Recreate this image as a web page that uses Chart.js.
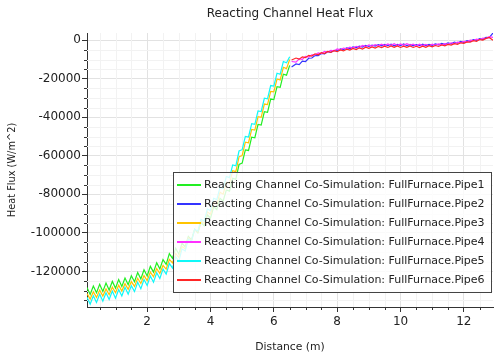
<!DOCTYPE html>
<html>
<head>
<meta charset="utf-8">
<script src="https://cdn.jsdelivr.net/npm/chart.js@4.4.0/dist/chart.umd.min.js"></script>
<style>
  html, body { margin: 0; padding: 0; background: #fff; }
  canvas { display: block; }
</style>
</head>
<body>
<canvas id="heatFluxChart" width="503" height="358"></canvas>
<script>
// series names as shown in the legend
const seriesNames = [
  'Reacting Channel Co-Simulation: FullFurnace.Pipe1',
  'Reacting Channel Co-Simulation: FullFurnace.Pipe2',
  'Reacting Channel Co-Simulation: FullFurnace.Pipe3',
  'Reacting Channel Co-Simulation: FullFurnace.Pipe4',
  'Reacting Channel Co-Simulation: FullFurnace.Pipe5',
  'Reacting Channel Co-Simulation: FullFurnace.Pipe6'
];

// distance (m) for the first half of the channel (Pipe1, Pipe3, Pipe5)
const xLeft = [
  0.1, 0.2, 0.3, 0.4, 0.5, 0.6, 0.7, 0.8, 0.9, 1.0,
  1.1, 1.2, 1.3, 1.4, 1.5, 1.6, 1.7, 1.8, 1.9, 2.0,
  2.1, 2.2, 2.3, 2.4, 2.5, 2.6, 2.7, 2.8, 2.9, 3.0,
  3.1, 3.2, 3.3, 3.4, 3.5, 3.6, 3.7, 3.8, 3.9, 4.0,
  4.1, 4.2, 4.3, 4.4, 4.5, 4.6, 4.7, 4.8, 4.9, 5.0,
  5.1, 5.2, 5.3, 5.4, 5.5, 5.6, 5.7, 5.8, 5.9, 6.0,
  6.1, 6.2, 6.3, 6.4, 6.5
];

// distance (m) for the second half (Pipe2, Pipe4, Pipe6)
const xRight = [
  6.56, 6.7, 6.8, 6.9, 7.0, 7.1, 7.2, 7.3, 7.4, 7.5,
  7.6, 7.7, 7.8, 7.9, 8.0, 8.1, 8.2, 8.3, 8.4, 8.5,
  8.6, 8.7, 8.8, 8.9, 9.0, 9.1, 9.2, 9.3, 9.4, 9.5,
  9.6, 9.7, 9.8, 9.9, 10.0, 10.1, 10.2, 10.3, 10.4, 10.5,
  10.6, 10.7, 10.8, 10.9, 11.0, 11.1, 11.2, 11.3, 11.4, 11.5,
  11.6, 11.7, 11.8, 11.9, 12.0, 12.1, 12.2, 12.3, 12.4, 12.5,
  12.6, 12.7, 12.8, 12.92
];

// heat flux (W/m^2)
const pipe1 = [
  -128400, -132000, -127600, -131100, -126700, -130400, -126100, -129700, -125200, -128700,
  -124200, -127800, -123400, -126900, -122300, -125400, -120600, -123900, -119200, -122400,
  -117400, -120400, -115500, -118700, -113900, -116400, -110800, -113200, -108000, -111100,
  -105400, -107200, -101800, -103600, -98200, -100000, -94600, -96300, -90700, -92300,
  -86500, -87900, -82100, -83400, -77700, -78300, -71700, -72200, -64500, -63800,
  -56900, -57200, -50300, -50600, -43700, -44000, -37100, -37400, -30500, -30800,
  -24100, -24400, -17600, -18100, -13000
];
const pipe3 = [
  -131500, -134400, -130600, -133500, -129700, -132800, -129100, -132100, -128200, -131100,
  -127200, -130200, -126400, -129300, -125300, -127800, -123600, -126300, -122200, -124800,
  -120400, -122800, -118500, -121100, -116900, -118800, -113800, -115600, -110700, -112800,
  -107000, -108400, -102600, -104000, -98200, -99600, -93800, -95100, -89100, -90300,
  -84100, -85100, -78900, -79900, -73700, -74300, -67700, -68200, -60500, -59800,
  -52900, -53200, -46300, -46600, -39700, -40000, -33100, -33400, -26500, -26800,
  -20100, -20600, -14000, -14700, -10000
];
const pipe5 = [
  -133500, -137000, -132700, -136200, -131800, -135500, -131100, -134600, -130200, -133900,
  -129400, -132800, -128300, -131900, -127400, -130500, -125700, -129000, -124200, -127300,
  -122400, -125600, -120700, -123700, -118800, -121400, -115900, -118300, -112400, -114800,
  -108300, -109400, -103200, -104300, -98100, -99200, -93000, -94000, -87600, -88500,
  -82000, -82700, -76200, -77000, -70700, -71300, -64700, -65200, -57500, -56800,
  -49900, -50200, -43300, -43600, -36700, -37000, -30100, -30400, -23500, -23800,
  -17100, -17600, -11000, -11700, -8500
];
const pipe2 = [
  -13800, -12300, -12600, -10800, -11000, -9300, -9200, -7900, -8000, -6800,
  -7000, -5900, -6200, -5200, -5500, -4400, -4800, -3900, -4300, -3400,
  -3900, -3000, -3500, -2700, -3200, -2500, -3000, -2300, -2900, -2100,
  -2800, -2000, -2900, -2100, -2700, -1900, -2800, -2100, -2900, -2200,
  -2800, -2000, -2700, -2100, -2600, -1900, -2400, -1600, -2100, -1300,
  -1800, -900, -1400, -600, -1000, -200, -500, 400, 0, 900,
  500, 1500, 1400, 3800
];
const pipe4 = [
  -11000, -11300, -9600, -9900, -8400, -8700, -7500, -7600, -6500, -6900,
  -5800, -6100, -5200, -5500, -4500, -4900, -4000, -4400, -3500, -4000,
  -3100, -3600, -2700, -3300, -2400, -3000, -2200, -2800, -2000, -2700,
  -1900, -2600, -1800, -2700, -1900, -2600, -1800, -2500, -2000, -2800,
  -2000, -2700, -2100, -2800, -2000, -2600, -1900, -2400, -1700, -2100,
  -1300, -1700, -900, -1300, -500, -800, 100, -200, 600, 300,
  1200, 900, 1900, 1500
];
const pipe6 = [
  -10200, -9200, -9800, -8600, -9000, -7800, -8200, -7000, -7500, -6400,
  -6900, -5800, -6300, -5400, -5900, -5000, -5500, -4600, -5100, -4200,
  -4800, -3900, -4500, -3600, -4200, -3400, -4000, -3200, -3800, -3000,
  -3700, -2900, -3600, -2900, -3700, -3000, -3600, -2900, -3700, -3100,
  -3800, -3000, -3600, -2800, -3400, -2700, -3200, -2400, -2900, -2100,
  -2500, -1700, -2100, -1300, -1600, -800, -1000, -200, -500, 400,
  100, 1000, 1500, 0
];

// axis tick labels
const xTicks = [2, 4, 6, 8, 10, 12];
const yTicks = [-120000, -100000, -80000, -60000, -40000, -20000, 0];

const lineColors = ['#22ee22', '#3434ff', '#ffc400', '#ff30ff', '#10f8f8', '#ff2626'];
const seriesX = [xLeft, xRight, xLeft, xRight, xLeft, xRight];
const seriesY = [pipe1, pipe2, pipe3, pipe4, pipe5, pipe6];

const datasets = seriesNames.map((name, i) => ({
  label: name,
  data: seriesY[i].map((v, k) => ({ x: seriesX[i][k], y: v })),
  borderColor: lineColors[i],
  backgroundColor: lineColors[i],
  borderWidth: 1.2,
  pointRadius: 0,
  tension: 0,
  order: 5 - i   // later pipes drawn on top
}));

const FONT = '"DejaVu Sans"';
Chart.defaults.font.family = FONT;
Chart.defaults.color = '#222';

// faint minor grid plus short minor ticks
const minorTicks = {
  id: 'minorTicks',
  beforeDatasetsDraw(chart) {
    const { ctx, chartArea: a, scales: { x, y } } = chart;
    ctx.save();
    ctx.lineWidth = 1;
    for (let k = 1; k <= 26; k++) {
      const v = k * 0.5;
      if (xTicks.includes(v)) continue;
      const px = Math.round(x.getPixelForValue(v)) + 0.5;
      if (px <= a.left + 1 || px >= a.right) continue;
      ctx.strokeStyle = '#f2f2f2';
      ctx.beginPath(); ctx.moveTo(px, a.top); ctx.lineTo(px, a.bottom); ctx.stroke();
      ctx.strokeStyle = '#333';
      ctx.beginPath(); ctx.moveTo(px, a.bottom); ctx.lineTo(px, a.bottom + 3); ctx.stroke();
    }
    for (let k = -27; k <= 0; k++) {
      const v = k * 5000;
      if (yTicks.includes(v)) continue;
      const py = Math.round(y.getPixelForValue(v)) + 0.5;
      if (py <= a.top || py >= a.bottom - 1) continue;
      ctx.strokeStyle = '#f2f2f2';
      ctx.beginPath(); ctx.moveTo(a.left, py); ctx.lineTo(a.right, py); ctx.stroke();
      ctx.strokeStyle = '#333';
      ctx.beginPath(); ctx.moveTo(a.left - 3, py); ctx.lineTo(a.left, py); ctx.stroke();
    }
    ctx.restore();
  }
};

// boxed legend sitting inside the plot, lower right
const boxLegend = {
  id: 'boxLegend',
  afterDraw(chart) {
    const { ctx } = chart;
    const left = 173.5, top = 172.5, w = 318, h = 120;
    ctx.save();
    ctx.fillStyle = 'rgba(255,255,255,0.82)';
    ctx.fillRect(left, top, w, h);
    ctx.strokeStyle = '#444';
    ctx.lineWidth = 1;
    ctx.strokeRect(left, top, w, h);
    ctx.font = '11px ' + FONT;
    ctx.textBaseline = 'middle';
    chart.data.datasets.forEach((ds, i) => {
      const rowY = 185 + i * 19;
      ctx.strokeStyle = ds.borderColor;
      ctx.lineWidth = 2;
      ctx.beginPath(); ctx.moveTo(177, rowY); ctx.lineTo(201, rowY); ctx.stroke();
      ctx.fillStyle = '#222';
      ctx.fillText(ds.label, 204, rowY);
    });
    ctx.restore();
  }
};

new Chart(document.getElementById('heatFluxChart'), {
  type: 'line',
  data: { datasets },
  plugins: [minorTicks, boxLegend],
  options: {
    responsive: false,
    devicePixelRatio: 1,
    animation: false,
    layout: { padding: { left: 0, right: 10, top: 0, bottom: 0 } },
    plugins: {
      legend: { display: false },
      tooltip: { enabled: false },
      title: {
        display: true,
        text: 'Reacting Channel Heat Flux',
        fullSize: false,
        color: '#222',
        font: { size: 12, weight: 'normal' },
        padding: { top: 6.5, bottom: 12.1 }
      }
    },
    scales: {
      x: {
        type: 'linear',
        min: 0.1,
        max: 12.92,
        afterBuildTicks: s => { s.ticks = xTicks.map(v => ({ value: v })); },
        afterFit: s => { s.height = 51; },
        ticks: { font: { size: 12 }, padding: 3, maxRotation: 0, callback: v => String(v) },
        grid: { color: '#e2e2e2', tickColor: '#333', tickLength: 5 },
        border: { color: '#333', width: 1 },
        title: { display: true, text: 'Distance (m)', font: { size: 10.8 }, padding: { top: 0, bottom: 4.5 } }
      },
      y: {
        min: -138500,
        max: 3800,
        afterBuildTicks: s => { s.ticks = yTicks.map(v => ({ value: v })); },
        afterFit: s => { s.width = 87; },
        ticks: { font: { size: 12 }, padding: 1, callback: v => String(v) },
        grid: { color: '#e2e2e2', tickColor: '#333', tickLength: 5 },
        border: { color: '#333', width: 1 },
        title: { display: true, text: 'Heat Flux (W/m^2)', font: { size: 9.8 }, padding: { top: 6.5, bottom: 0 } }
      }
    }
  }
});
</script>
</body>
</html>
